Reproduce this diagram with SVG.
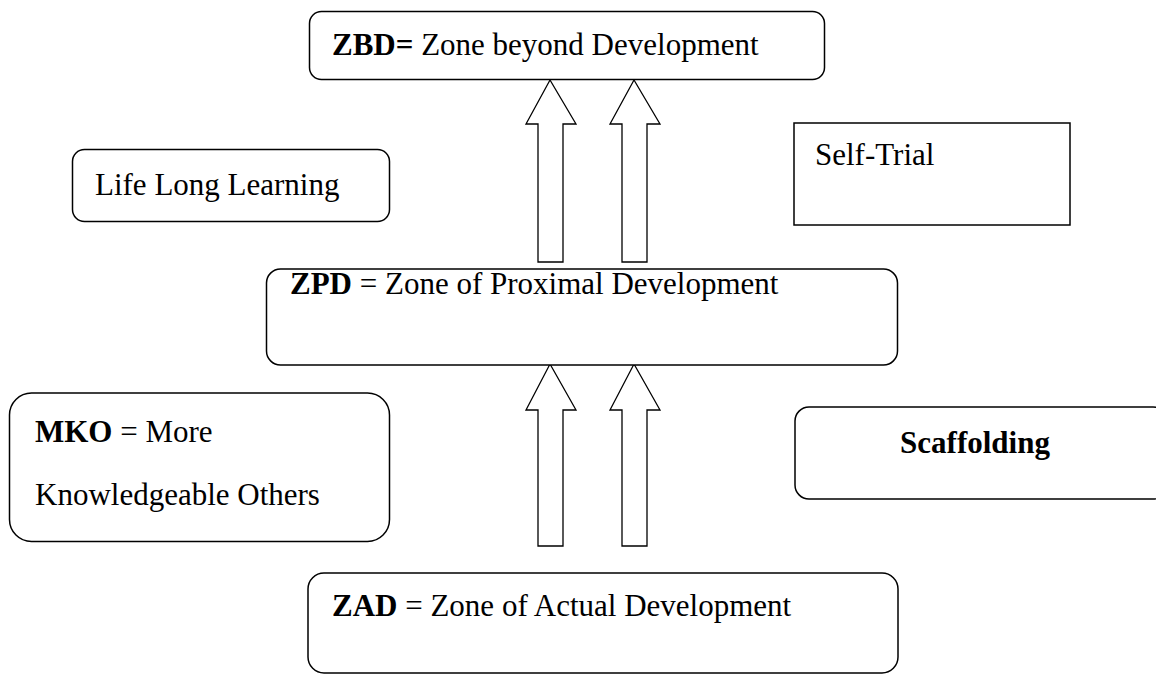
<svg xmlns="http://www.w3.org/2000/svg" width="1156" height="675" viewBox="0 0 1156 675">
<style>
.box{fill:#fff;stroke:#000;stroke-width:1.5}
.arr{fill:#fff;stroke:#000;stroke-width:1.3;stroke-linejoin:miter}
text{font-family:"Liberation Serif","Times New Roman",serif;font-size:31px;fill:#000}
.b{font-weight:bold}
</style>
<rect width="1156" height="675" fill="#fff"/>
<g id="connectors">
<path class="arr" d="M550,80 L576,124 L563,124 L563,262 L538,262 L538,124 L526,124 Z"/>
<path class="arr" d="M634,80 L660,124 L647,124 L647,262 L622,262 L622,124 L610,124 Z"/>
<path class="arr" d="M550,364 L576,410 L563,410 L563,546 L538,546 L538,410 L526,410 Z"/>
<path class="arr" d="M634,364 L660,410 L647,410 L647,546 L622,546 L622,410 L610,410 Z"/>
</g>
<g id="zbd">
<rect class="box" x="309.5" y="11.5" width="515" height="68" rx="12"/>
<text x="332" y="55"><tspan class="b">ZBD=</tspan> Zone beyond Development</text>
</g>
<g id="lll">
<rect class="box" x="72.5" y="149.5" width="317" height="72" rx="12"/>
<text x="95" y="195">Life Long Learning</text>
</g>
<g id="selftrial">
<rect class="box" x="794" y="123" width="276" height="102"/>
<text x="815" y="165">Self-Trial</text>
</g>
<g id="zpd">
<rect class="box" x="266.5" y="269" width="631" height="96" rx="14"/>
<text x="290" y="294"><tspan class="b">ZPD</tspan> = Zone of Proximal Development</text>
</g>
<g id="mko">
<rect class="box" x="9.5" y="393" width="380" height="148.5" rx="22"/>
<text x="35" y="442"><tspan class="b">MKO</tspan> = More</text>
<text x="35" y="505">Knowledgeable Others</text>
</g>
<g id="scaffolding">
<rect class="box" x="795" y="407" width="372" height="92" rx="14"/>
<text x="975" y="453" text-anchor="middle" class="b">Scaffolding</text>
</g>
<g id="zad">
<rect class="box" x="308" y="573" width="590" height="100" rx="16"/>
<text x="332" y="616"><tspan class="b">ZAD</tspan> = Zone of Actual Development</text>
</g>
</svg>
